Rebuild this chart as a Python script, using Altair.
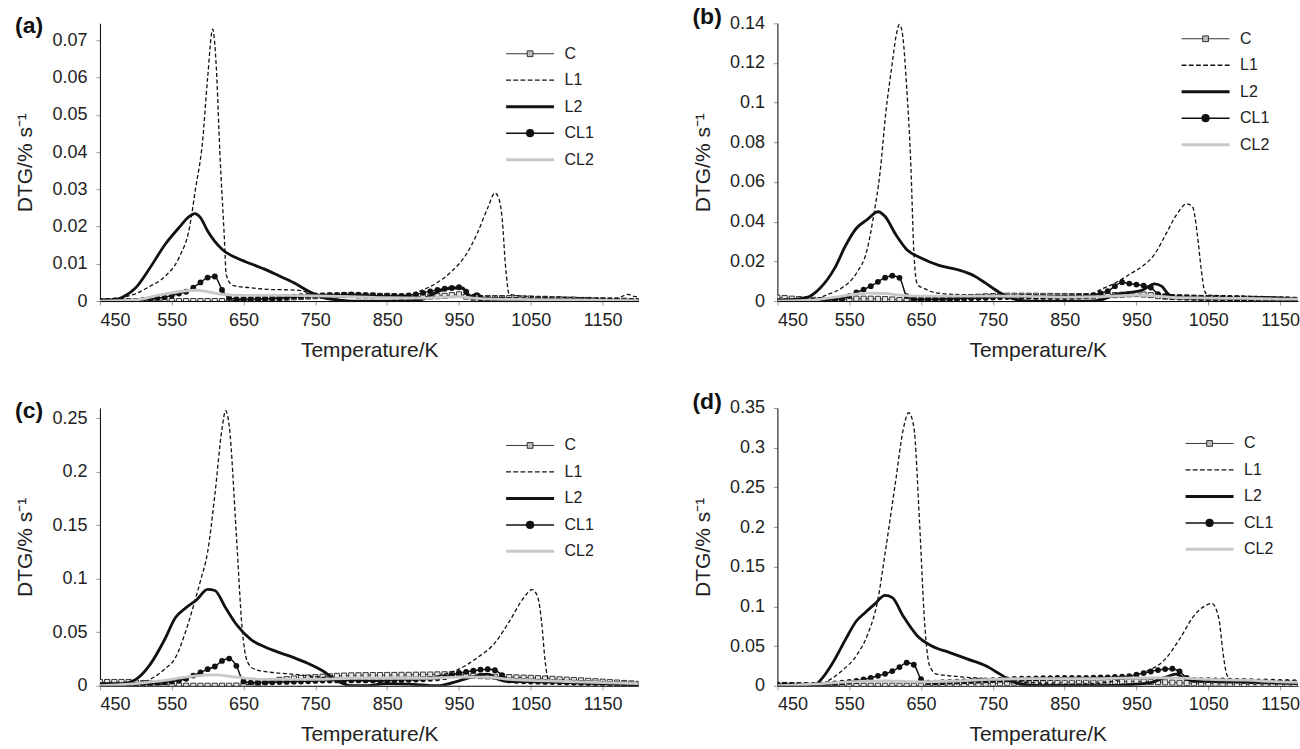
import altair as alt
import pandas as pd

SERIES = ["C", "L1", "L2", "CL1", "CL2"]
X_TICKS = [450, 550, 650, 750, 850, 950, 1050, 1150]

# shared 10 K temperature grid used by the marker series (C and CL1)
T_GRID = [450, 460, 470, 480, 490, 500, 510, 520, 530, 540,
          550, 560, 570, 580, 590, 600, 610, 620, 630, 640,
          650, 660, 670, 680, 690, 700, 710, 720, 730, 740,
          750, 760, 770, 780, 790, 800, 810, 820, 830, 840,
          850, 860, 870, 880, 890, 900, 910, 920, 930, 940,
          950, 960, 970, 980, 990, 1000, 1010, 1020, 1030, 1040,
          1050, 1060, 1070, 1080, 1090, 1100, 1110, 1120, 1130, 1140,
          1150, 1160, 1170, 1180, 1190, 1200]

# ---------------- panel (a) ----------------
A_C = [0, 0, 0, 0, 0, 0, 0, 0, 0, 0,
       0, 0, 0, 0, 0, 0, 0, 0, 0.0001, 0.0002,
       0.0003, 0.0004, 0.0005, 0.0006, 0.0007, 0.0008, 0.0009, 0.001, 0.0011, 0.0012,
       0.0013, 0.0014, 0.0015, 0.0015, 0.0016, 0.0016, 0.0015, 0.0015, 0.0015, 0.0014,
       0.0014, 0.0013, 0.0012, 0.0012, 0.0011, 0.0011, 0.0012, 0.0013, 0.0014, 0.0016,
       0.0018, 0.0012, 0.0009, 0.0008, 0.0008, 0.0008, 0.0008, 0.0008, 0.0008, 0.0007,
       0.0007, 0.0006, 0.0006, 0.0005, 0.0005, 0.0004, 0.0004, 0.0003, 0.0003, 0.0002,
       0.0002, 0.0001, 0.0001, 0.0001, 0, 0]
A_CL1 = [0, 0, 0, 0, 0, 0, 0.0003, 0.0005, 0.0008, 0.001,
         0.0015, 0.002, 0.0025, 0.0036, 0.005, 0.0063, 0.0066, 0.003, 0.0008, 0.0005,
         0.0005, 0.0005, 0.0005, 0.0006, 0.0007, 0.0008, 0.001, 0.0012, 0.0013, 0.0014,
         0.0015, 0.0015, 0.0016, 0.0016, 0.0017, 0.0018, 0.0017, 0.0016, 0.0015, 0.0014,
         0.0014, 0.0014, 0.0014, 0.0015, 0.0018, 0.0022, 0.0026, 0.003, 0.0033, 0.0035,
         0.0037, 0.0025, 0.001, 0.0007, 0.0006, 0.0005, 0.0005, 0.0004, 0.0004, 0.0003,
         0.0003, 0.0003, 0.0003, 0.0002, 0.0002, 0.0002, 0.0001, 0.0001, 0.0001, 0,
         0, 0, 0, 0, 0, 0]
A_L1_T = [450, 480, 500, 520, 540, 560, 575, 583, 593, 600, 607, 612, 617, 623, 626, 635, 658, 687, 716, 733,
          745, 800, 850, 880, 900, 920, 940, 960, 975, 990, 1000, 1005, 1010, 1015, 1020, 1050, 1100, 1150, 1170, 1185,
          1195, 1200]
A_L1 = [0.0005, 0.001, 0.002, 0.004, 0.0065, 0.0116, 0.020, 0.030, 0.043, 0.060, 0.073, 0.063, 0.040, 0.018, 0.007,
        0.0042, 0.0036, 0.0031, 0.003, 0.0027, 0.0018, 0.0015, 0.0012, 0.0018, 0.003, 0.005, 0.008, 0.0125, 0.018,
        0.025, 0.029, 0.0278, 0.0224, 0.009, 0.0018, 0.0012, 0.001, 0.0008, 0.0008, 0.0018, 0.0012, 0.0012]
A_L2_T = [450, 470, 480, 500, 520, 540, 560, 575, 582, 590, 600, 620, 640, 660, 680, 700, 720, 740, 760, 780,
          800, 880, 900, 920, 940, 955, 965, 975, 985, 1000, 1050, 1100, 1200]
A_L2 = [0, 0.0003, 0.0009, 0.0036, 0.009, 0.015, 0.0197, 0.0228, 0.0235, 0.0224, 0.0188, 0.0139, 0.0116, 0.010,
        0.0085, 0.0067, 0.0049, 0.0027, 0.001, 0.0003, 0, 0, 0.0005, 0.0025, 0.0035, 0.0035, 0.001, 0.002, 0.0005,
        0.0005, 0.0004, 0.0003, 0]
A_CL2_T = [450, 500, 530, 560, 585, 600, 620, 650, 700, 750, 800, 850, 900, 950, 970, 1000, 1050, 1100, 1150, 1200]
A_CL2 = [0, 0.0003, 0.0015, 0.0025, 0.0029, 0.0025, 0.0018, 0.0015, 0.0015, 0.0014, 0.0012, 0.0009, 0.0008,
         0.0012, 0.0008, 0.0005, 0.0004, 0.0003, 0.0002, 0.0001]

# ---------------- panel (b) ----------------
B_C = [0.0017, 0.0015, 0.0012, 0.001, 0.0008, 0.0006, 0.0005, 0.0005, 0.0006, 0.0008,
       0.001, 0.0012, 0.0012, 0.0012, 0.0011, 0.001, 0.0008, 0.0005, 0.0004, 0.0005,
       0.0006, 0.0008, 0.001, 0.0012, 0.0014, 0.0016, 0.0018, 0.002, 0.0022, 0.0024,
       0.0025, 0.0026, 0.0027, 0.0027, 0.0027, 0.0027, 0.0027, 0.0026, 0.0026, 0.0025,
       0.0025, 0.0025, 0.0025, 0.0025, 0.0026, 0.0027, 0.0028, 0.003, 0.0032, 0.0034,
       0.0035, 0.0033, 0.003, 0.0025, 0.0022, 0.002, 0.0019, 0.0018, 0.0017, 0.0016,
       0.0015, 0.0014, 0.0014, 0.0013, 0.0013, 0.0012, 0.0011, 0.001, 0.001, 0.0009,
       0.0008, 0.0007, 0.0006, 0.0006, 0.0005, 0.0005]
B_CL1 = [0, 0, 0, 0, 0, 0.0002, 0.0003, 0.0005, 0.0009, 0.0013,
         0.0025, 0.0043, 0.0058, 0.0075, 0.0097, 0.0118, 0.0128, 0.0117, 0.0025, 0.001,
         0.0009, 0.0008, 0.0009, 0.001, 0.0011, 0.0012, 0.0013, 0.0014, 0.0015, 0.0016,
         0.0018, 0.0019, 0.002, 0.0021, 0.0022, 0.0022, 0.0021, 0.0021, 0.002, 0.002,
         0.002, 0.0021, 0.0023, 0.0025, 0.003, 0.004, 0.005, 0.0075, 0.0095, 0.0088,
         0.0083, 0.0078, 0.0068, 0.0035, 0.0025, 0.002, 0.0019, 0.0018, 0.0017, 0.0016,
         0.0015, 0.0014, 0.0013, 0.0012, 0.0012, 0.0011, 0.001, 0.001, 0.0009, 0.0009,
         0.0008, 0.0008, 0.0007, 0.0006, 0.0006, 0.0005]
B_L1_T = [450, 500, 520, 540, 560, 575, 584, 593, 601, 610, 615, 620, 624, 630, 636, 640, 645, 655, 670, 700,
          750, 800, 850, 880, 900, 920, 940, 960, 975, 990, 1005, 1020, 1028, 1035, 1040, 1045, 1050, 1100, 1150, 1180,
          1200]
B_L1 = [0.001, 0.001, 0.0033, 0.0067, 0.014, 0.026, 0.043, 0.065, 0.095, 0.120, 0.133, 0.1394, 0.135, 0.108, 0.067,
        0.025, 0.0083, 0.0063, 0.0042, 0.0033, 0.003, 0.0025, 0.002, 0.0025, 0.0058, 0.009, 0.0134, 0.018, 0.0234,
        0.033, 0.043, 0.049, 0.0476, 0.033, 0.0167, 0.005, 0.003, 0.0025, 0.002, 0.0015, 0.001]
B_L2_T = [450, 490, 510, 530, 545, 560, 575, 590, 600, 615, 630, 650, 675, 700, 725, 740, 760, 780, 800, 880,
          900, 920, 940, 960, 975, 985, 995, 1010, 1050, 1100, 1150, 1200]
B_L2 = [0, 0.0017, 0.0067, 0.0167, 0.028, 0.0367, 0.041, 0.045, 0.0426, 0.0334, 0.026, 0.0217, 0.018, 0.0159,
        0.0125, 0.009, 0.0042, 0.001, 0, 0, 0.0005, 0.0033, 0.0042, 0.0058, 0.0087, 0.0075, 0.0033, 0.0015, 0.0015,
        0.0012, 0.001, 0.0008]
B_CL2_T = [450, 500, 530, 560, 580, 600, 620, 650, 700, 750, 800, 850, 900, 950, 980, 1000, 1050, 1100, 1150, 1200]
B_CL2 = [0, 0.0005, 0.002, 0.0035, 0.004, 0.0038, 0.003, 0.0025, 0.0025, 0.0025, 0.0024, 0.002, 0.0022, 0.003,
         0.0025, 0.0018, 0.0015, 0.0013, 0.001, 0.0009]

# ---------------- panel (c) ----------------
C_C = [0.0035, 0.0035, 0.0035, 0.0035, 0.0035, 0.003, 0.0025, 0.002, 0.0015, 0.001,
       0.0005, 0.0002, 0, 0, 0, 0, 0, 0, 0, 0.0002,
       0.0008, 0.0015, 0.0025, 0.0035, 0.0045, 0.0055, 0.0062, 0.0068, 0.0073, 0.0077,
       0.008, 0.0085, 0.0088, 0.0092, 0.0095, 0.0097, 0.0098, 0.0099, 0.01, 0.01,
       0.0101, 0.0101, 0.0102, 0.0102, 0.0103, 0.0104, 0.0105, 0.0106, 0.0107, 0.0108,
       0.0105, 0.01, 0.0095, 0.009, 0.0088, 0.0085, 0.0083, 0.0081, 0.0078, 0.0076,
       0.0074, 0.0071, 0.0068, 0.0065, 0.006, 0.0057, 0.0053, 0.005, 0.0046, 0.0042,
       0.0038, 0.0034, 0.003, 0.0026, 0.0022, 0.0018]
C_CL1 = [0, 0, 0, 0, 0.0005, 0.001, 0.0015, 0.002, 0.0025, 0.003,
         0.004, 0.005, 0.0065, 0.0095, 0.0124, 0.0155, 0.018, 0.0232, 0.0254, 0.0186,
         0.004, 0.003, 0.003, 0.003, 0.0032, 0.0034, 0.0036, 0.0038, 0.004, 0.0042,
         0.0045, 0.0048, 0.005, 0.005, 0.005, 0.005, 0.005, 0.005, 0.005, 0.005,
         0.005, 0.0052, 0.0054, 0.0056, 0.0058, 0.006, 0.0065, 0.007, 0.008, 0.01,
         0.012, 0.013, 0.014, 0.015, 0.0155, 0.0145, 0.01, 0.005, 0.0045, 0.0042,
         0.004, 0.0038, 0.0036, 0.0034, 0.0032, 0.003, 0.0028, 0.0026, 0.0024, 0.0022,
         0.002, 0.0018, 0.0016, 0.0014, 0.0012, 0.001]
C_L1_T = [450, 480, 500, 520, 540, 555, 570, 580, 590, 600, 610, 620, 625, 630, 640, 648, 655, 665, 690, 720,
          760, 800, 850, 900, 930, 950, 975, 1000, 1020, 1040, 1052, 1060, 1065, 1070, 1075, 1100, 1150, 1200]
C_L1 = [0.0, 0.0, 0.0015, 0.006, 0.0155, 0.026, 0.052, 0.074, 0.098, 0.125, 0.178, 0.24, 0.257, 0.243, 0.141,
        0.054, 0.023, 0.0155, 0.0124, 0.0108, 0.0077, 0.0053, 0.004, 0.006, 0.0108, 0.0155, 0.026, 0.040, 0.060,
        0.082, 0.0898, 0.082, 0.060, 0.023, 0.0046, 0.003, 0.002, 0.001]
C_L2_T = [450, 480, 500, 520, 540, 555, 570, 585, 600, 610, 625, 640, 660, 680, 700, 720, 740, 760, 780, 800,
          820, 850, 880, 920, 950, 975, 990, 1005, 1020, 1050, 1100, 1150, 1200]
C_L2 = [0.002, 0.002, 0.006, 0.020, 0.043, 0.0635, 0.073, 0.0805, 0.0900, 0.089, 0.0728, 0.0573, 0.0434, 0.0362,
        0.031, 0.0263, 0.0208, 0.014, 0.0046, 0.0, 0.0, 0.002, 0.0015, 0.0, 0.0046, 0.0093, 0.0108, 0.006, 0.004,
        0.004, 0.003, 0.002, 0.001]
C_CL2_T = [450, 500, 550, 580, 610, 640, 680, 750, 800, 850, 900, 950, 990, 1020, 1050, 1100, 1150, 1200]
C_CL2 = [0, 0.002, 0.006, 0.009, 0.0102, 0.008, 0.006, 0.006, 0.007, 0.007, 0.007, 0.008, 0.008, 0.006, 0.005,
         0.004, 0.003, 0.002]

# ---------------- panel (d) ----------------
D_C = [0.001, 0.001, 0.0008, 0.0006, 0.0004, 0.0002, 0, 0, 0, 0,
       0, 0, 0, 0, 0, 0, 0, 0, 0, 0,
       0, 0, 0.0002, 0.0004, 0.0007, 0.001, 0.0014, 0.0018, 0.0022, 0.0026,
       0.003, 0.0033, 0.0036, 0.0038, 0.004, 0.0041, 0.0042, 0.0043, 0.0044, 0.0045,
       0.0045, 0.0046, 0.0047, 0.0048, 0.0049, 0.005, 0.0051, 0.0052, 0.0053, 0.0054,
       0.0055, 0.0053, 0.005, 0.0046, 0.0043, 0.004, 0.0037, 0.0035, 0.0033, 0.0031,
       0.003, 0.0028, 0.0026, 0.0024, 0.0022, 0.002, 0.0019, 0.0018, 0.0017, 0.0016,
       0.0015, 0.0014, 0.0013, 0.0012, 0.0011, 0.001]
D_CL1 = [0.001, 0.001, 0.001, 0.001, 0.001, 0.001, 0.0015, 0.002, 0.003, 0.004,
         0.005, 0.006, 0.008, 0.01, 0.0125, 0.015, 0.0185, 0.0235, 0.029, 0.0265,
         0.0084, 0.004, 0.004, 0.0045, 0.005, 0.0053, 0.0056, 0.006, 0.0064, 0.0067,
         0.007, 0.0075, 0.008, 0.0085, 0.0088, 0.009, 0.0093, 0.0095, 0.0097, 0.0099,
         0.01, 0.01, 0.01, 0.01, 0.0102, 0.0104, 0.0106, 0.011, 0.0115, 0.012,
         0.014, 0.016, 0.018, 0.0197, 0.021, 0.0215, 0.018, 0.01, 0.0075, 0.0072,
         0.007, 0.0068, 0.0066, 0.0064, 0.0062, 0.006, 0.0058, 0.0056, 0.0054, 0.0052,
         0.005, 0.0048, 0.0046, 0.0044, 0.0042, 0.004]
D_L1_T = [450, 500, 520, 540, 560, 575, 590, 600, 615, 625, 633, 640, 648, 655, 662, 672, 700, 750, 800, 850,
          900, 930, 960, 990, 1010, 1030, 1045, 1055, 1065, 1070, 1075, 1080, 1100, 1150, 1200]
D_L1 = [0.001, 0.0, 0.006, 0.019, 0.038, 0.063, 0.109, 0.167, 0.26, 0.322, 0.344, 0.326, 0.205, 0.0795, 0.025,
        0.0146, 0.0117, 0.0084, 0.0042, 0.002, 0.0033, 0.0084, 0.0167, 0.0335, 0.0586, 0.088, 0.1004, 0.1038,
        0.0837, 0.046, 0.0167, 0.0084, 0.006, 0.004, 0.003]
D_L2_T = [450, 500, 515, 530, 545, 560, 572, 585, 600, 610, 625, 645, 665, 690, 715, 740, 760, 775, 790, 820,
          900, 950, 970, 990, 1005, 1015, 1030, 1050, 1100, 1150, 1200]
D_L2 = [0.001, 0.0, 0.0126, 0.0335, 0.0586, 0.0816, 0.092, 0.1025, 0.1138, 0.111, 0.088, 0.0628, 0.0502, 0.0418,
        0.0335, 0.0251, 0.0146, 0.0063, 0.002, 0.0, 0.0, 0.002, 0.004, 0.0105, 0.0146, 0.0105, 0.006, 0.006, 0.005,
        0.004, 0.003]
D_CL2_T = [450, 500, 550, 600, 650, 700, 750, 800, 850, 900, 950, 1000, 1050, 1100, 1150, 1200]
D_CL2 = [0.0, 0.002, 0.005, 0.006, 0.005, 0.006, 0.008, 0.009, 0.009, 0.009, 0.01, 0.01, 0.008, 0.007, 0.005, 0.004]


def build_df(c_vals, cl1_vals, l1_t, l1_v, l2_t, l2_v, cl2_t, cl2_v):
    parts = [
        pd.DataFrame({"T": T_GRID, "v": c_vals, "series": "C"}),
        pd.DataFrame({"T": l1_t, "v": l1_v, "series": "L1"}),
        pd.DataFrame({"T": l2_t, "v": l2_v, "series": "L2"}),
        pd.DataFrame({"T": T_GRID, "v": cl1_vals, "series": "CL1"}),
        pd.DataFrame({"T": cl2_t, "v": cl2_v, "series": "CL2"}),
    ]
    return pd.concat(parts, ignore_index=True)


# legend symbols: custom paths (unit = 8 px, symbol box 16 px), line + marker in one symbol
def dashed_path(n=7, dash=0.6, gap=0.3, start=-3.0):
    out, x = [], start
    for _ in range(n):
        out.append(f"M{x:.2f},0H{x + dash:.2f}")
        x += dash + gap
    return "".join(out)


SQ = 0.36
CR = 0.42
LEG_PATHS = [
    f"M-3,0H-{SQ}M{SQ},0H3M-{SQ},-{SQ}H{SQ}V{SQ}H-{SQ}Z",
    dashed_path(),
    "M-3,0H3",
    f"M-3,0H3M-{CR},0A{CR},{CR},0,1,0,{CR},0A{CR},{CR},0,1,0,-{CR},0Z",
    "M-3,0H3",
]
LEG_STROKES = ["#333333", "#111111", "#111111", "#111111", "#c8c8c8"]
LEG_FILLS = ["#bdbdbd", "transparent", "transparent", "#111111", "transparent"]
LEG_WIDTHS = [1.0, 1.3, 3.0, 1.5, 3.0]

legend_df = pd.DataFrame({"series": SERIES, "T": [450] * 5, "v": [0] * 5})


def panel(tag, df, ymax, yvals, width, xmax, lx, ly):
    xs = alt.X("T:Q", scale=alt.Scale(domain=[450, xmax], nice=False, zero=False),
               axis=alt.Axis(values=X_TICKS, title="Temperature/K", format="d"))
    ys = alt.Y("v:Q", scale=alt.Scale(domain=[0, ymax], nice=False, zero=True),
               axis=alt.Axis(values=yvals, title="DTG/% s⁻¹", format="~g"))
    base = alt.Chart(df)

    def sel(s):
        return base.transform_filter(alt.datum.series == s)

    c_line = sel("C").mark_line(color="#333333", strokeWidth=1, interpolate="monotone", clip=True).encode(xs, ys)
    c_pts = sel("C").mark_point(shape="square", size=26, filled=True, fill="#e6e6e6", stroke="#222222",
                                strokeWidth=0.9, opacity=1, clip=True).encode(xs, ys)
    l1 = sel("L1").mark_line(color="#111111", strokeWidth=1.3, strokeDash=[4, 2.5], interpolate="monotone",
                             clip=True).encode(xs, ys)
    l2 = sel("L2").mark_line(color="#111111", strokeWidth=2.8, interpolate="monotone", clip=True).encode(xs, ys)
    cl1_line = sel("CL1").mark_line(color="#111111", strokeWidth=1.5, interpolate="monotone", clip=True).encode(xs, ys)
    cl1_pts = sel("CL1").mark_circle(size=34, color="#111111", opacity=1, clip=True).encode(xs, ys)
    cl2 = sel("CL2").mark_line(color="#c8c8c8", strokeWidth=2.8, interpolate="monotone", clip=True).encode(xs, ys)

    leg = alt.Legend(title=None, orient="none", legendX=lx, legendY=ly, symbolSize=256,
                     labelFont="Liberation Sans", labelFontSize=16, labelColor="#222222",
                     labelOffset=25, rowPadding=9, padding=0, symbolOpacity=1)
    dummy = alt.Chart(legend_df).mark_point(opacity=0, clip=True).encode(
        xs, ys,
        shape=alt.Shape("series:N", scale=alt.Scale(domain=SERIES, range=LEG_PATHS), legend=leg),
        stroke=alt.Stroke("series:N", scale=alt.Scale(domain=SERIES, range=LEG_STROKES), legend=leg),
        fill=alt.Fill("series:N", scale=alt.Scale(domain=SERIES, range=LEG_FILLS), legend=leg),
        strokeWidth=alt.StrokeWidth("series:N", scale=alt.Scale(type="ordinal", domain=SERIES, range=LEG_WIDTHS),
                                    legend=leg),
    )
    return alt.layer(c_line, c_pts, l1, l2, cl1_line, cl1_pts, cl2, dummy).properties(
        width=width, height=278,
        title=alt.TitleParams(text=tag, anchor="start", frame="bounds", offset=-15),
    )


df_a = build_df(A_C, A_CL1, A_L1_T, A_L1, A_L2_T, A_L2, A_CL2_T, A_CL2)
df_b = build_df(B_C, B_CL1, B_L1_T, B_L1, B_L2_T, B_L2, B_CL2_T, B_CL2)
df_c = build_df(C_C, C_CL1, C_L1_T, C_L1, C_L2_T, C_L2, C_CL2_T, C_CL2)
df_d = build_df(D_C, D_CL1, D_L1_T, D_L1, D_L2_T, D_L2, D_CL2_T, D_CL2)

pa = panel("(a)", df_a, 0.0746, [0, 0.01, 0.02, 0.03, 0.04, 0.05, 0.06, 0.07], 539, 1200, 421, 22)
pb = panel("(b)", df_b, 0.14, [0, 0.02, 0.04, 0.06, 0.08, 0.1, 0.12, 0.14], 521, 1175, 419, 7)
pc = panel("(c)", df_c, 0.2595, [0, 0.05, 0.1, 0.15, 0.2, 0.25], 539, 1200, 421, 29)
pd_ = panel("(d)", df_d, 0.35, [0, 0.05, 0.1, 0.15, 0.2, 0.25, 0.3, 0.35], 521, 1175, 423, 27)

RES = dict(shape="independent", stroke="independent", fill="independent", strokeWidth="independent")

row1 = alt.hconcat(pa, pb, spacing=54).resolve_scale(**RES).resolve_legend(**RES)
row2 = alt.hconcat(pc, pd_, spacing=54).resolve_scale(**RES).resolve_legend(**RES)

chart = alt.vconcat(row1, row2, spacing=31).resolve_scale(**RES).resolve_legend(**RES).properties(
    padding={"left": 15, "top": 6, "right": 0, "bottom": 0}
).configure_axis(
    labelFont="Liberation Sans", titleFont="Liberation Sans", labelFontSize=18, titleFontSize=21,
    titleFontWeight="normal", labelColor="#222222", titleColor="#222222", domainColor="#000000",
    domainWidth=1, tickColor="#999999", tickSize=4, grid=False,
).configure_axisY(
    labelPadding=9, titlePadding=12, minExtent=52, maxExtent=52,
).configure_axisX(
    labelPadding=6, titlePadding=10,
).configure_view(stroke=None).configure_title(
    font="Liberation Sans", fontSize=23, fontWeight="bold", color="#111111", anchor="start",
)

chart.save("out.html", embed_options={"renderer": "svg", "actions": False})
